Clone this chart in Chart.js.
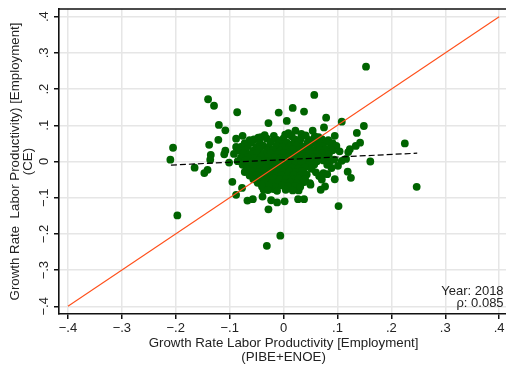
<!DOCTYPE html>
<html>
<head>
<meta charset="utf-8">
<script src="https://cdn.jsdelivr.net/npm/chart.js@4/dist/chart.umd.min.js"></script>
<style>
  html, body { margin: 0; padding: 0; background: #fff; overflow: hidden; }
  #wrap { position: absolute; left: 0; top: 0; width: 512px; height: 366px; }
</style>
</head>
<body>
<div id="wrap"><canvas id="c" width="512" height="366"></canvas></div>
<script>
// Axis ticks and their labels
const tickValues = [-0.4, -0.3, -0.2, -0.1, 0, 0.1, 0.2, 0.3, 0.4];
const xTickLabels = ['−.4', '−.3', '−.2', '−.1', '0', '.1', '.2', '.3', '.4'];
const yTickLabels = ['−.4', '−.3', '−.2', '−.1', '0', '.1', '.2', '.3', '.4'];

const xTitle = ['Growth Rate Labor Productivity [Employment]', '(PIBE+ENOE)'];
const yTitle = ['Growth Rate  Labor Productivity) [Employment]', '(CE)'];
const noteLines = ['Year: 2018', 'ρ: 0.085'];

// Growth rates per unit: [PIBE+ENOE, CE]
const outerPoints = [
  [-0.140, 0.172], [-0.129, 0.154], [-0.086, 0.136], [0.057, 0.184], [-0.009, 0.135],
  [0.017, 0.148], [0.038, 0.138], [-0.028, 0.106], [0.006, 0.112], [0.079, 0.121],
  [0.075, 0.094], [-0.120, 0.101], [-0.108, 0.086], [-0.121, 0.060], [-0.138, 0.046],
  [-0.205, 0.038], [-0.210, 0.005], [-0.135, 0.018], [-0.136, 0.005], [-0.165, -0.017],
  [-0.141, -0.023], [-0.147, -0.032], [-0.108, 0.030], [-0.110, 0.020], [-0.101, -0.003],
  [-0.095, -0.056], [-0.088, -0.092], [-0.197, -0.149], [-0.067, -0.108], [-0.057, -0.104],
  [-0.028, -0.132], [-0.023, -0.107], [-0.012, -0.113], [0.002, -0.110], [0.028, -0.080],
  [0.027, -0.104], [0.038, -0.104], [0.050, -0.064], [0.069, -0.078], [0.077, -0.069],
  [0.095, -0.049], [0.102, -0.123], [0.081, -0.035], [0.119, -0.028], [0.104, 0.028],
  [0.095, 0.071], [0.088, 0.040], [0.065, 0.067], [0.054, 0.085], [0.022, 0.085],
  [0.009, 0.078], [0.033, 0.076], [-0.042, 0.067], [-0.063, 0.059], [-0.076, 0.071],
  [-0.088, 0.063], [-0.088, 0.040], [0.153, 0.262], [0.108, 0.110], [0.149, 0.098],
  [0.136, 0.079], [0.142, 0.052], [0.134, 0.043], [0.123, 0.034], [0.120, 0.026],
  [0.225, 0.050], [0.161, 0.000], [0.116, 0.007], [0.247, -0.070], [0.125, -0.045],
  [0.101, -0.012], [0.094, 0.005], [-0.047, 0.066], [-0.037, -0.078], [-0.019, -0.076],
  [0.049, -0.060], [0.071, -0.050], [0.074, -0.032], [-0.077, -0.073], [-0.031, -0.233],
  [-0.006, -0.205], [-0.039, -0.097]
];

const corePoints = [
  [-0.035, 0.073], [-0.018, 0.071], [0.003, 0.074], [0.015, 0.070], [0.041, 0.072], [0.058, 0.069],
  [-0.055, 0.061], [-0.031, 0.063], [-0.012, 0.060], [0.000, 0.064], [0.021, 0.061], [0.032, 0.063],
  [0.047, 0.060], [0.071, 0.062], [0.083, 0.059],
  [-0.072, 0.051], [-0.060, 0.053], [-0.044, 0.050], [-0.024, 0.054], [-0.008, 0.051], [0.006, 0.052],
  [0.018, 0.050], [0.029, 0.054], [0.044, 0.051], [0.056, 0.053], [0.068, 0.050], [0.079, 0.054], [0.091, 0.051],
  [-0.078, 0.041], [-0.066, 0.043], [-0.051, 0.040], [-0.038, 0.044], [-0.027, 0.041], [-0.013, 0.043],
  [-0.002, 0.040], [0.011, 0.042], [0.024, 0.044], [0.036, 0.041], [0.049, 0.043], [0.062, 0.040],
  [0.073, 0.042], [0.098, 0.043],
  [-0.083, 0.031], [-0.070, 0.033], [-0.056, 0.030], [-0.045, 0.034], [-0.031, 0.031], [-0.019, 0.033],
  [-0.006, 0.030], [0.005, 0.032], [0.016, 0.034], [0.028, 0.031], [0.041, 0.033], [0.053, 0.030],
  [0.067, 0.032], [0.079, 0.034], [0.091, 0.031],
  [-0.092, 0.021], [-0.074, 0.023], [-0.062, 0.020], [-0.049, 0.024], [-0.036, 0.021], [-0.024, 0.022],
  [-0.011, 0.020], [0.001, 0.023], [0.013, 0.021], [0.025, 0.024], [0.037, 0.020], [0.047, 0.022],
  [0.059, 0.021], [0.072, 0.023], [0.084, 0.020],
  [-0.079, 0.011], [-0.066, 0.013], [-0.053, 0.010], [-0.041, 0.014], [-0.029, 0.011], [-0.016, 0.012],
  [-0.004, 0.010], [0.008, 0.013], [0.019, 0.011], [0.031, 0.014], [0.043, 0.010], [0.055, 0.012],
  [0.066, 0.011], [0.078, 0.013],
  [-0.085, 0.001], [-0.071, 0.003], [-0.058, 0.000], [-0.046, 0.004], [-0.034, 0.001], [-0.022, 0.002],
  [-0.009, 0.000], [0.003, 0.003], [0.014, 0.001], [0.026, 0.004], [0.038, 0.000], [0.050, 0.002],
  [0.062, 0.001], [0.074, 0.003], [0.086, 0.000], [0.108, 0.002],
  [-0.076, -0.009], [-0.063, -0.007], [-0.051, -0.010], [-0.039, -0.006], [-0.027, -0.009], [-0.015, -0.008],
  [-0.002, -0.010], [0.009, -0.007], [0.021, -0.009], [0.033, -0.006], [0.045, -0.010], [0.057, -0.008],
  [0.081, -0.009],
  [-0.068, -0.019], [-0.056, -0.017], [-0.044, -0.020], [-0.032, -0.016], [-0.020, -0.019], [-0.008, -0.018],
  [0.004, -0.020], [0.016, -0.017], [0.028, -0.019], [0.040, -0.016], [0.052, -0.020], [0.089, -0.018],
  [-0.072, -0.029], [-0.059, -0.027], [-0.047, -0.030], [-0.036, -0.026], [-0.024, -0.029], [-0.012, -0.028],
  [0.000, -0.030], [0.011, -0.027], [0.023, -0.029], [0.035, -0.026], [0.060, -0.030],
  [-0.063, -0.039], [-0.050, -0.037], [-0.039, -0.040], [-0.027, -0.036], [-0.015, -0.039], [-0.004, -0.038],
  [0.008, -0.040], [0.019, -0.037], [0.031, -0.039], [0.043, -0.036], [0.066, -0.040],
  [-0.056, -0.049], [-0.043, -0.047], [-0.031, -0.050], [-0.019, -0.046], [-0.007, -0.049], [0.005, -0.048],
  [0.017, -0.050], [0.028, -0.047], [0.040, -0.049],
  [-0.048, -0.059], [-0.035, -0.057], [-0.022, -0.060], [-0.010, -0.056], [0.002, -0.059], [0.013, -0.058],
  [0.025, -0.060], [0.037, -0.057],
  [-0.040, -0.069], [-0.027, -0.067], [-0.014, -0.070], [-0.003, -0.066], [0.009, -0.069], [0.021, -0.068],
  [0.031, -0.070],
  [-0.029, -0.079], [-0.012, -0.081], [0.004, -0.078], [0.017, -0.080]
];

// Fitted regression line and the 45° reference line
const fitLine = [[-0.209, -0.010], [0.248, 0.023]];
const diagonal = [[-0.4, -0.4], [0.4, 0.4]];

const FONT = "'Liberation Sans', Arial, Helvetica, sans-serif";
const TEXT = '#222';
const AXIS = '#111';

const toXY = arr => arr.map(([x, y]) => ({ x, y }));

const frameAndNote = {
  id: 'frameAndNote',
  afterDatasetsDraw(chart) {
    const { ctx, chartArea: a } = chart;
    ctx.save();
    ctx.strokeStyle = AXIS;
    ctx.lineWidth = 1.6;
    ctx.beginPath();
    ctx.moveTo(a.left, a.top);
    ctx.lineTo(a.right, a.top);
    ctx.lineTo(a.right, a.bottom);
    ctx.stroke();
    ctx.fillStyle = TEXT;
    ctx.font = '13px ' + FONT;
    ctx.textAlign = 'right';
    ctx.textBaseline = 'alphabetic';
    ctx.fillText(noteLines[0], a.right - 4.5, a.bottom - 18.7);
    ctx.fillText(noteLines[1], a.right - 4.5, a.bottom - 7.5);
    ctx.restore();
  }
};

const setTicks = scale => { scale.ticks = tickValues.map(v => ({ value: v })); };

new Chart(document.getElementById('c'), {
  type: 'scatter',
  data: {
    datasets: [
      {
        type: 'line', data: toXY(fitLine), borderColor: '#000', borderWidth: 1.2,
        borderDash: [6, 3], pointRadius: 0, fill: false, order: 1
      },
      {
        type: 'line', data: toXY(diagonal), borderColor: '#ff4f1a', borderWidth: 1.1,
        pointRadius: 0, fill: false, order: 2
      },
      {
        data: toXY(outerPoints.concat(corePoints)), backgroundColor: '#006400',
        borderWidth: 0, pointRadius: 3.9, pointHoverRadius: 3.9, order: 3
      }
    ]
  },
  options: {
    responsive: false,
    animation: false,
    events: [],
    layout: { padding: { top: 9, right: 1.3, left: 0, bottom: 0 } },
    plugins: { legend: { display: false }, tooltip: { enabled: false } },
    scales: {
      x: {
        type: 'linear', min: -0.4166, max: 0.4166,
        afterBuildTicks: setTicks,
        afterFit: s => { s.height = 52; },
        border: { color: AXIS, width: 1.6 },
        grid: { color: '#e6e6e6', lineWidth: 1.5, tickColor: AXIS, tickWidth: 1.5, tickLength: 5 },
        ticks: {
          autoSkip: false, maxRotation: 0, padding: 1.5, color: TEXT,
          font: { family: FONT, size: 13 },
          callback: (v, i) => xTickLabels[i]
        },
        title: {
          display: true, text: xTitle, color: TEXT,
          font: { family: FONT, size: 13.3, lineHeight: 14 / 13.3 },
          padding: { top: 0, bottom: 2 }
        }
      },
      y: {
        type: 'linear', min: -0.4212, max: 0.4212,
        afterBuildTicks: setTicks,
        afterFit: s => { s.width = 59; },
        border: { color: AXIS, width: 1.6 },
        grid: { color: '#e6e6e6', lineWidth: 1.5, tickColor: AXIS, tickWidth: 1.5, tickLength: 5 },
        ticks: {
          autoSkip: false, minRotation: 90, maxRotation: 90, crossAlign: 'center',
          padding: 0, color: TEXT, font: { family: FONT, size: 13 },
          callback: (v, i) => yTickLabels[i]
        },
        title: {
          display: true, text: yTitle, color: TEXT,
          font: { family: FONT, size: 13.3, lineHeight: 13 / 13.3 },
          padding: { top: 8.5, bottom: 0 }
        }
      }
    }
  },
  plugins: [frameAndNote]
});
</script>
</body>
</html>
